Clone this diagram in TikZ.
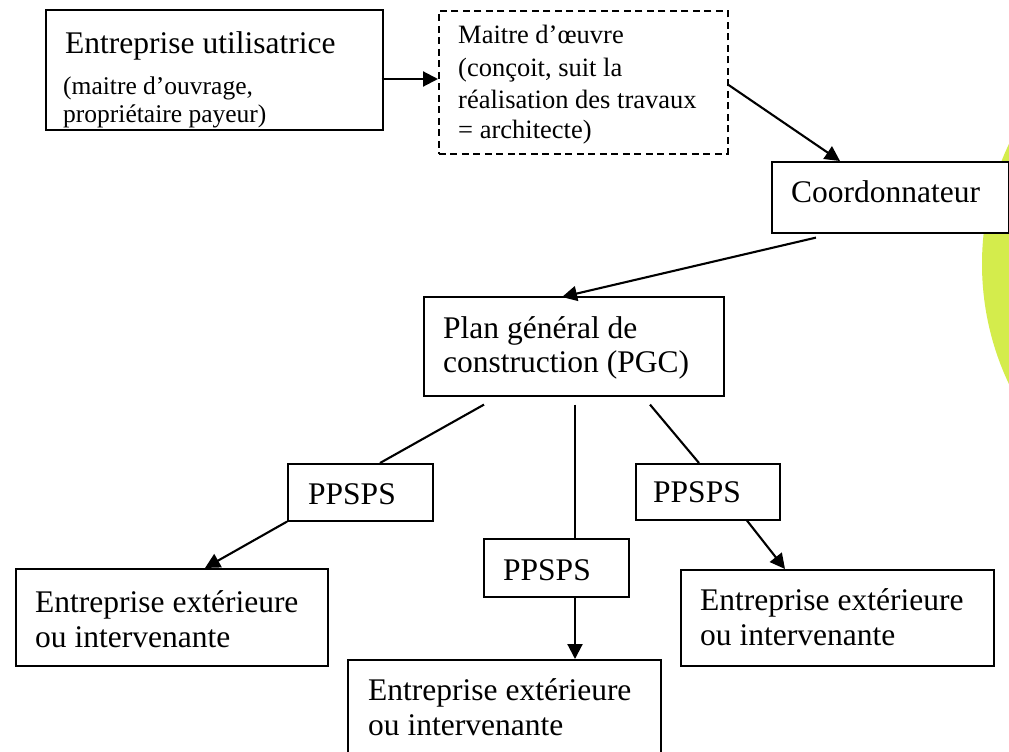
\documentclass[tikz,border=0pt]{standalone}
\usepackage{fontspec}
\setmainfont{Liberation Serif}
\usetikzlibrary{arrows.meta,calc}
\definecolor{lime}{RGB}{212,236,76}
\tikzset{
  box/.style={draw=black, line width=1.6pt, fill=white, inner sep=0pt, anchor=north west},
  dbox/.style={box, dash pattern=on 7pt off 4.5pt},
  big/.style={anchor=base west, inner sep=0pt, font=\fontsize{31.5}{35}\selectfont},
  small/.style={anchor=base west, inner sep=0pt, font=\fontsize{25.5}{28}\selectfont},
  mid/.style={anchor=base west, inner sep=0pt, font=\fontsize{26.5}{30}\selectfont},
  link/.style={line width=2.1pt},
  arr/.style={link, -{Triangle[length=15pt,width=15pt]}}
}
\begin{document}
\begin{tikzpicture}[x=1pt,y=-1pt]
\useasboundingbox (0,0) rectangle (1009,752);
\clip (0,0) rectangle (1009,752);
\fill[white] (0,0) rectangle (1009,752);
% green shape
\fill[lime] (1262,264) circle[radius=280pt];
% boxes
\node[box, minimum width=337pt, minimum height=120pt] (util) at (45,9) {};
\node[dbox, minimum width=289pt, minimum height=143pt] (moe) at (438,10) {};
\node[box, minimum width=237pt, minimum height=71pt] (coord) at (771,161) {};
\node[box, minimum width=300pt, minimum height=99pt] (plan) at (423,296) {};
\node[box, minimum width=145pt, minimum height=57pt] (ppsL) at (287,463) {};
\node[box, minimum width=145pt, minimum height=58pt] (ppsM) at (483,538) {};
\node[box, minimum width=144pt, minimum height=56pt] (ppsR) at (635,463) {};
\node[box, minimum width=312pt, minimum height=97pt] (entL) at (15,568) {};
\node[box, minimum width=313pt, minimum height=100pt] (entM) at (347,659) {};
\node[box, minimum width=313pt, minimum height=96pt] (entR) at (680,569) {};
% texts
\node[big] (tu1) at (65,53) {Entreprise utilisatrice};
\node[small] (tu2) at (63,94) {(maitre d’ouvrage,};
\node[small] (tu3) at (63,122) {propriétaire payeur)};
\node[mid] (tm1) at (458,44) {Maitre d’œuvre};
\node[mid] (tm2) at (458,77) {(conçoit, suit la};
\node[mid] (tm3) at (458,108) {réalisation des travaux};
\node[mid] (tm4) at (458,138) {= architecte)};
\node[big] (tc1) at (791,202) {Coordonnateur};
\node[big] (tp1) at (443,338) {Plan général de};
\node[big] (tp2) at (443,372) {construction (PGC)};
\node[big] (tsL) at (308,504) {PPSPS};
\node[big] (tsM) at (503,580) {PPSPS};
\node[big] (tsR) at (653,502) {PPSPS};
\node[big] (teL1) at (35,612) {Entreprise extérieure};
\node[big] (teL2) at (35,647) {ou intervenante};
\node[big] (teM1) at (368,700) {Entreprise extérieure};
\node[big] (teM2) at (368,735) {ou intervenante};
\node[big] (teR1) at (700,610) {Entreprise extérieure};
\node[big] (teR2) at (700,645) {ou intervenante};
% connectors
\draw[arr] ($(util.north east)+(-2,70)$) -- ($(moe.north west)+(0,69)$);
\draw[arr] ($(moe.north east)+(0,75)$) -- ($(coord.north west)+(69,0)$);
\draw[arr] ($(coord.south west)+(45,4)$) -- ($(plan.north west)+(139,1)$);
\draw[link] ($(plan.south west)+(61,8)$) -- ($(ppsL.north west)+(93,0)$);
\draw[arr] (ppsL.south west) -- ($(entL.north west)+(190,0)$);
\draw[link] ($(plan.south west)+(152,8)$) -- ($(ppsM.north west)+(92,0)$);
\draw[arr] ($(ppsM.south west)+(92,0)$) -- ($(entM.north west)+(228,0)$);
\draw[link] ($(plan.south west)+(227,8)$) -- ($(ppsR.north west)+(64,0)$);
\draw[arr] ($(ppsR.south west)+(112,0)$) -- ($(entR.north west)+(105,0)$);
\end{tikzpicture}
\end{document}
